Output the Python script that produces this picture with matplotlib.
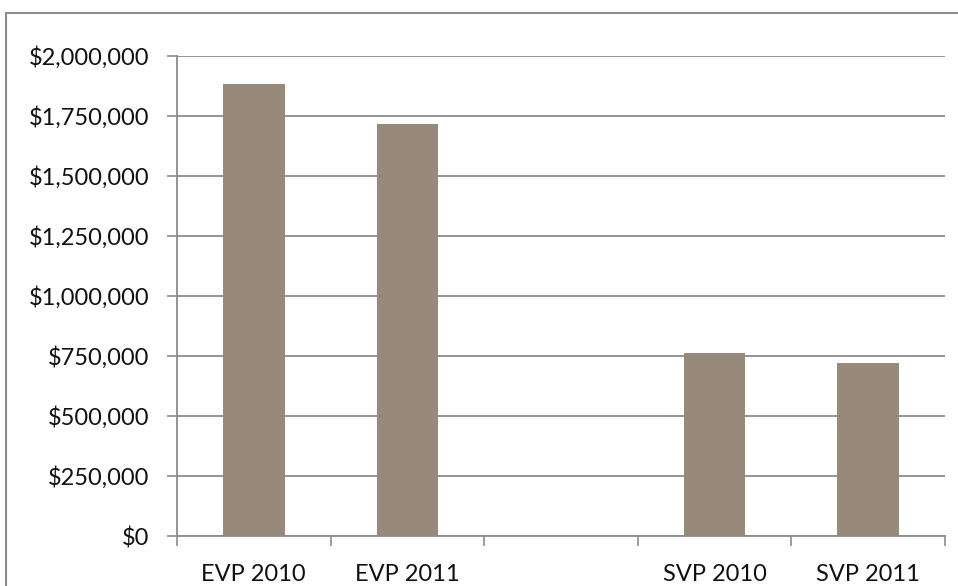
import matplotlib
matplotlib.use("Agg")
import matplotlib.pyplot as plt
from matplotlib.patches import Rectangle
from matplotlib.ticker import FuncFormatter, MultipleLocator

categories = ["EVP 2010", "EVP 2011", "", "SVP 2010", "SVP 2011"]
values = [1882000, 1716000, 0, 761000, 722000]
has_bar = [True, True, False, True, True]

plt.rcParams['font.family'] = ['Lato', 'DejaVu Sans']

W, H = 958, 586
fig = plt.figure(figsize=(W / 100, H / 100), dpi=100)
ax = fig.add_axes([177 / W, 1 - 536 / H, (945 - 177) / W, (536 - 56) / H])

xs = list(range(len(categories)))
bx = [x for x, h in zip(xs, has_bar) if h]
bv = [v for v, h in zip(values, has_bar) if h]
ax.bar(bx, bv, width=0.4, color="#978A7A", zorder=3)

ax.set_xlim(-0.5, len(categories) - 0.5)
ax.set_ylim(0, 2000000)
ax.yaxis.set_major_locator(MultipleLocator(250000))
ax.yaxis.set_major_formatter(FuncFormatter(lambda v, p: f"${int(v):,}"))
ax.grid(axis="y", color="#8C8C8C", linewidth=1.3, zorder=0)

FS = 17
ax.set_xticks(xs)
ax.set_xticklabels(categories)
ax.tick_params(axis="x", length=0, pad=20, labelsize=FS, labelcolor="#111111")
ax.set_xticks([x - 0.5 for x in range(len(categories) + 1)], minor=True)
ax.tick_params(axis="x", which="minor", length=7, color="#8C8C8C", width=1.2)
ax.tick_params(axis="y", length=7, color="#8C8C8C", width=1.2, labelsize=FS,
               pad=13, labelcolor="#111111")

for s in ["top", "right"]:
    ax.spines[s].set_visible(False)
for s in ["left", "bottom"]:
    ax.spines[s].set_color("#8C8C8C")
    ax.spines[s].set_linewidth(1.3)

fig.patches.append(Rectangle((6 / W, -0.1), 1.2, 1 - 13 / H + 0.1,
                             transform=fig.transFigure, fill=False,
                             edgecolor="#8C8C8C", linewidth=1.5))

fig.savefig("out.png", dpi=100)
